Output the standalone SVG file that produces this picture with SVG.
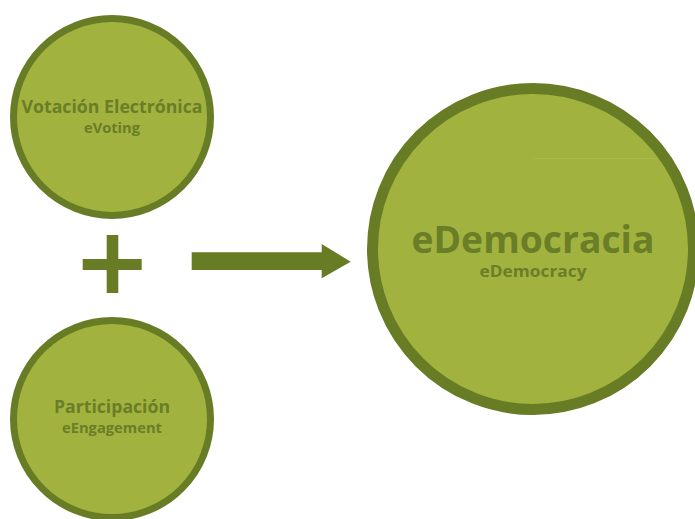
<svg xmlns="http://www.w3.org/2000/svg" width="695" height="519" viewBox="0 0 695 519">
<style>
.node{fill:#a2b23f;stroke:#677c25}
.t{fill:#6a7d27;font-family:"Open Sans","Noto Sans",sans-serif;font-weight:bold;text-anchor:middle}
.shape{fill:#677c25}
</style>
<rect width="695" height="519" fill="#ffffff"/>
<g id="votacion">
<circle class="node" cx="112" cy="117" r="98.5" stroke-width="7"/>
<text class="t" x="112" y="113" font-size="18" textLength="181" lengthAdjust="spacingAndGlyphs">Votación Electrónica</text>
<text class="t" x="112" y="133" font-size="14" textLength="56" lengthAdjust="spacingAndGlyphs">eVoting</text>
</g>
<g id="participacion">
<circle class="node" cx="112" cy="419" r="98.5" stroke-width="7"/>
<text class="t" x="112" y="413" font-size="18" textLength="116" lengthAdjust="spacingAndGlyphs">Participación</text>
<text class="t" x="112" y="433" font-size="14" textLength="100" lengthAdjust="spacingAndGlyphs">eEngagement</text>
</g>
<g id="edemocracia">
<circle class="node" cx="533" cy="249" r="160.5" stroke-width="11"/>
<line x1="533" y1="158.5" x2="658" y2="158.5" stroke="#a9b94a" stroke-width="1"/>
<text class="t" x="533" y="253" font-size="38" textLength="243" lengthAdjust="spacingAndGlyphs">eDemocracia</text>
<text class="t" x="533" y="277" font-size="16" textLength="107" lengthAdjust="spacingAndGlyphs">eDemocracy</text>
</g>
<g id="connectors">
<g id="plus">
<rect class="shape" x="106.7" y="235" width="11.6" height="58"/>
<rect class="shape" x="82.7" y="259" width="59" height="11"/>
</g>
<path id="arrow" class="shape" d="M191.7 252.3 H321.7 V244 L350.7 261.7 L321.7 278.3 V270 H191.7 Z"/>
</g>
</svg>
